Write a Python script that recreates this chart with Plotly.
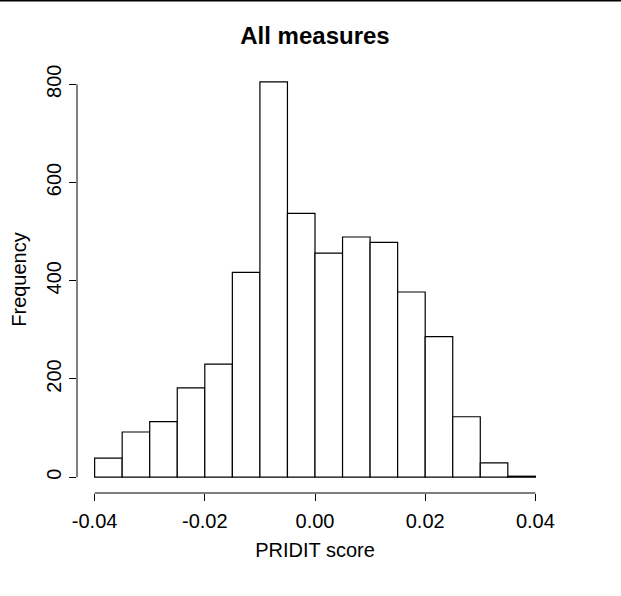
import plotly.graph_objects as go

# Histogram data
bin_edges = [-0.040, -0.035, -0.030, -0.025, -0.020, -0.015, -0.010, -0.005,
             0.000, 0.005, 0.010, 0.015, 0.020, 0.025, 0.030, 0.035, 0.040]
counts = [39, 92, 113, 182, 230, 417, 805, 537, 456, 489, 478, 377, 286, 123, 29, 2]

x_tickvals = [-0.04, -0.02, 0.00, 0.02, 0.04]
x_ticktext = ["-0.04", "-0.02", "0.00", "0.02", "0.04"]
y_tickvals = [0, 200, 400, 600, 800]
y_ticktext = ["0", "200", "400", "600", "800"]

title = "All measures"
x_title = "PRIDIT score"
y_title = "Frequency"

centers = [(a + b) / 2 for a, b in zip(bin_edges[:-1], bin_edges[1:])]
widths = [b - a for a, b in zip(bin_edges[:-1], bin_edges[1:])]

W, H = 621, 596
ML, MR, MT, MB = 77, 68, 66, 103
PW, PH = W - ML - MR, H - MT - MB

FONT = "Liberation Sans, Arial, Helvetica, sans-serif"
FS = 20

fig = go.Figure()
fig.add_trace(go.Bar(
    x=centers, y=counts, width=widths,
    marker=dict(color="white", line=dict(color="black", width=1.2)),
    hoverinfo="x+y",
))

span = bin_edges[-1] - bin_edges[0]
xr = [bin_edges[0] - 0.04 * span, bin_edges[-1] + 0.04 * span]
ymax = max(counts)
yr = [-0.04 * ymax, ymax * 1.04]

fig.update_layout(
    width=W, height=H,
    margin=dict(l=ML, r=MR, t=MT, b=MB, pad=0),
    paper_bgcolor="white", plot_bgcolor="white",
    showlegend=False,
    font=dict(family=FONT, color="black", size=FS),
    title=dict(text="<b>" + title + "</b>", x=(ML + PW / 2) / W, xanchor="center",
               y=1 - 36 / H, yanchor="middle", font=dict(size=24, family=FONT)),
    xaxis=dict(range=xr, tickvals=x_tickvals, ticktext=x_ticktext,
               showgrid=False, zeroline=False, showline=False,
               ticks="outside", ticklen=7, tickwidth=1, tickcolor="black",
               tickfont=dict(size=FS), ticklabelstandoff=3,
               title=dict(text=x_title, font=dict(size=FS), standoff=11)),
    yaxis=dict(range=yr, tickvals=y_tickvals, ticktext=y_ticktext,
               showgrid=False, zeroline=False, showline=False,
               ticks="outside", ticklen=7, tickwidth=1, tickcolor="black",
               tickangle=-90, tickfont=dict(size=FS), ticklabelstandoff=0,
               title=dict(text=y_title, font=dict(size=FS), standoff=11)),
    shapes=[
        # x axis line spanning tick range
        dict(type="line", xref="x", yref="paper", x0=x_tickvals[0], x1=x_tickvals[-1],
             y0=0, y1=0, line=dict(color="black", width=1)),
        # y axis line spanning tick range
        dict(type="line", xref="paper", yref="y", x0=0, x1=0,
             y0=y_tickvals[0], y1=y_tickvals[-1], line=dict(color="black", width=1)),
        # top border line of the image
        dict(type="line", xref="paper", yref="paper", x0=-ML / PW, x1=1 + MR / PW,
             y0=1 + (MT - 0.75) / PH, y1=1 + (MT - 0.75) / PH,
             line=dict(color="black", width=1.5)),
    ],
)

fig.write_html("out.html")
